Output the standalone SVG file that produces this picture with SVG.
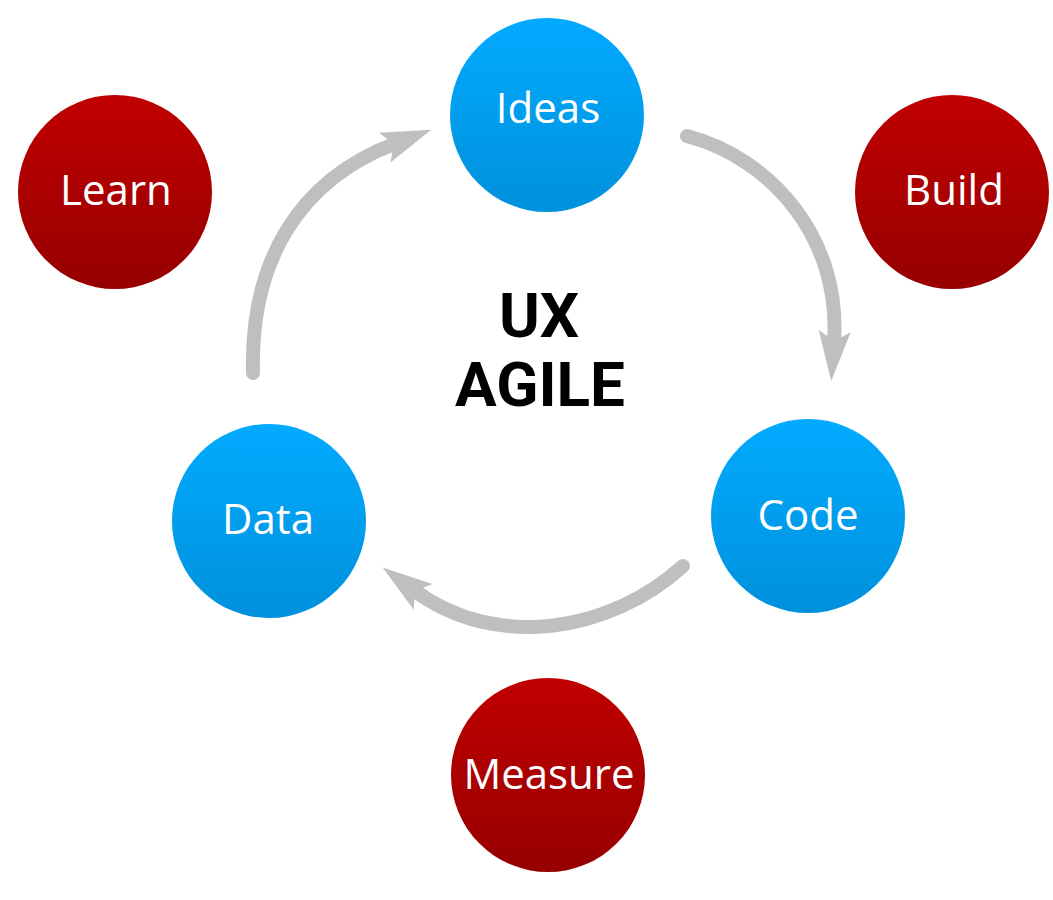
<svg xmlns="http://www.w3.org/2000/svg" width="1053" height="900" viewBox="0 0 1053 900">
  <defs>
    <linearGradient id="gBlue" x1="0" y1="0" x2="0" y2="1">
      <stop offset="0" stop-color="#02aaff"/>
      <stop offset="1" stop-color="#0091dc"/>
    </linearGradient>
    <linearGradient id="gRed" x1="0" y1="0" x2="0" y2="1">
      <stop offset="0" stop-color="#c00000"/>
      <stop offset="1" stop-color="#960000"/>
    </linearGradient>
    <marker id="arrow" markerUnits="userSpaceOnUse" markerWidth="60" markerHeight="40" viewBox="0 -20 60 40" refX="10" refY="0" orient="auto" overflow="visible">
      <path d="M0,-16 L50,0 L0,16 L10,0 Z" fill="#bfbfbf"/>
    </marker>
    <style>
      .blue { fill: url(#gBlue); }
      .red { fill: url(#gRed); }
      .lbl { font-family: "Open Sans", "Noto Sans", sans-serif; font-size: 42px; fill: #ffffff; text-anchor: middle; }
      .title { font-family: Roboto, "Liberation Sans", sans-serif; font-weight: bold; font-size: 62px; fill: #000000; text-anchor: middle; }
      .conn { fill: none; stroke: #bfbfbf; stroke-width: 14; stroke-linecap: round; marker-end: url(#arrow); }
    </style>
  </defs>
  <rect width="1053" height="900" fill="#ffffff"/>

  <g id="connectors">
    <path class="conn" d="M253,373 C250,260 300,180 394,144"/>
    <path class="conn" d="M687,136 C774,159 841,241 834,341"/>
    <path class="conn" d="M683,566 C609,633 496,650 415,591"/>
  </g>

  <g id="title">
    <text class="title" x="539" y="337">UX</text>
    <text class="title" x="540" y="406">AGILE</text>
  </g>

  <g id="node-ideas">
    <circle class="blue" cx="547" cy="115" r="97"/>
    <text class="lbl" x="548" y="123">Ideas</text>
  </g>
  <g id="node-code">
    <circle class="blue" cx="808" cy="516" r="97"/>
    <text class="lbl" x="808" y="530">Code</text>
  </g>
  <g id="node-data">
    <circle class="blue" cx="269" cy="521" r="97"/>
    <text class="lbl" x="268" y="534">Data</text>
  </g>
  <g id="node-learn">
    <circle class="red" cx="115" cy="192" r="97"/>
    <text class="lbl" x="116" y="205">Learn</text>
  </g>
  <g id="node-build">
    <circle class="red" cx="952" cy="192" r="97"/>
    <text class="lbl" x="954" y="205">Build</text>
  </g>
  <g id="node-measure">
    <circle class="red" cx="548" cy="775" r="97"/>
    <text class="lbl" x="549" y="789">Measure</text>
  </g>
</svg>
